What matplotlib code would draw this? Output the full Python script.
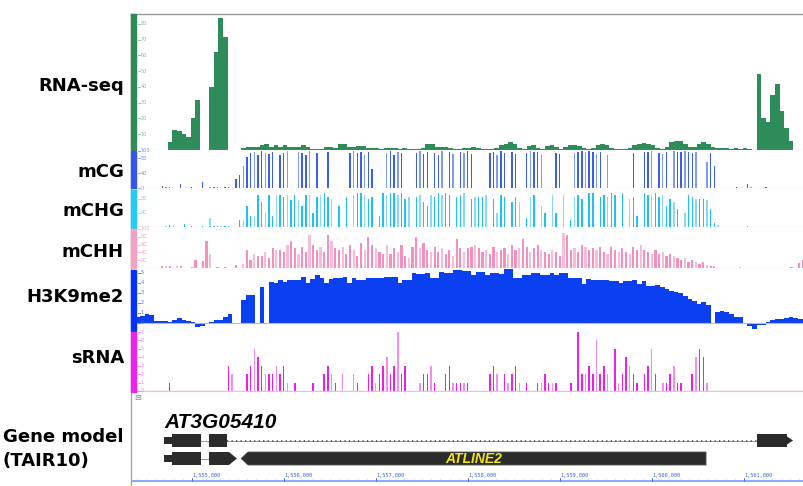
import matplotlib
matplotlib.use("Agg")
import matplotlib.pyplot as plt
import matplotlib.transforms as mtrans
from matplotlib.lines import Line2D
from matplotlib.patches import Polygon, Rectangle
import numpy as np

# ---------------- data ----------------
START, END = 1554337, 1561652

RNA_BIN = 50
rna_seq = [0, 0, 0, 0, 0, 0, 0, 0,
           5, 13, 12, 10, 8, 20, 32,
           0, 0,
           40, 62, 84, 72,
           0, 0, 0,
           1, 2, 2, 2, 3, 4, 2, 3, 2, 3, 2, 2, 2, 3, 2,
           0.5, 0.5, 0.5,
           2, 2, 1, 4, 4, 2, 2, 2.5, 2.5, 1, 1.5, 1, 0.5, 1, 1.5, 1, 0.5, 1.5, 0.5, 0.5, 0.5, 1,
           4, 3.5, 2, 2, 2, 1, 0.5, 0.5, 1, 1.5, 2, 1.5, 0.5, 0.5, 0.5, 1,
           3, 4, 5, 4, 1, 0.5, 2.5, 3, 1, 0.5, 2.5, 3, 2, 0.5, 2, 3, 3, 2.5, 1, 0.5,
           1, 3, 4, 3, 1, 0.5, 0.5, 0.5, 1, 3, 4, 4.5, 4, 3, 1, 0.5, 2, 5, 6, 6,
           4, 2, 2, 4, 5, 4, 2, 1, 1, 1, 0.5, 1, 0.5, 1, 0.5, 0,
           48, 20, 18, 35, 42, 25, 14, 6, 0, 0, 0]

METH_BIN = 40
mCG = [0, 0, 0, 0, 0, 0, 0, 0, 5, 4,
       3, 0, 0, 10, 0, 0, 4, 0, 0, 15,
       0, 3, 2, 3, 0, 3, 2, 0, 25, 35,
       60, 85, 95, 98, 90, 100, 95, 92, 97, 0,
       90, 95, 100, 0, 0, 98, 95, 90, 100, 0,
       95, 0, 0, 98, 0, 0, 0, 0, 0, 95,
       100, 95, 98, 90, 96, 50, 0, 0, 0, 95,
       100, 90, 98, 95, 0, 0, 0, 95, 100, 92,
       98, 0, 95, 90, 100, 0, 96, 92, 0, 98,
       95, 100, 92, 0, 0, 0, 0, 95, 98, 90,
       100, 95, 0, 98, 92, 0, 0, 95, 100, 96,
       98, 90, 0, 0, 0, 95, 92, 0, 0, 0,
       95, 98, 100, 96, 100, 98, 92, 97, 0, 90,
       0, 0, 0, 0, 0, 0, 95, 0, 0, 96,
       98, 100, 0, 95, 92, 97, 0, 100, 98, 96,
       100, 98, 95, 97, 0, 0, 70, 95, 60, 0,
       0, 0, 0, 0, 2, 0, 0, 12, 3, 0,
       0, 0, 2, 0, 0, 0, 0, 0, 0, 0,
       0, 0, 0]

mCHG = [0, 0, 0, 0, 0, 0, 0, 0, 0, 4,
        5, 4, 0, 0, 8, 0, 3, 0, 0, 2,
        0, 25, 3, 2, 3, 2, 3, 0, 0, 20,
        20, 60, 30, 30, 90, 70, 40, 90, 30, 90,
        90, 85, 90, 75, 90, 75, 60, 90, 90, 40,
        85, 90, 95, 85, 80, 0, 60, 0, 85, 0,
        90, 95, 95, 90, 80, 85, 0, 30, 95, 90,
        95, 95, 90, 95, 80, 85, 0, 85, 90, 70,
        60, 90, 85, 95, 90, 95, 90, 0, 85, 90,
        95, 0, 80, 85, 85, 85, 90, 0, 80, 40,
        90, 85, 0, 70, 85, 70, 0, 25, 85, 90,
        0, 60, 40, 0, 90, 40, 0, 90, 0, 20,
        85, 90, 80, 0, 95, 95, 0, 85, 90, 85,
        95, 90, 0, 95, 0, 80, 85, 30, 0, 95,
        90, 90, 95, 85, 90, 60, 80, 70, 50, 0,
        40, 90, 85, 80, 80, 80, 75, 50, 10, 5,
        0, 0, 0, 0, 0, 0, 0, 2, 0, 0,
        0, 0, 0, 0, 0, 0, 0, 0, 0, 0,
        0, 0, 0]

mCHH = [0, 0, 0, 0, 0, 0, 0, 0, 5, 4,
        5, 0, 5, 4, 0, 0, 3, 20, 0, 18,
        70, 35, 0, 2, 0, 3, 0, 0, 8, 0,
        10, 45, 20, 35, 30, 30, 40, 25, 50, 45,
        45, 40, 60, 70, 50, 35, 55, 40, 85, 60,
        45, 55, 40, 85, 70, 50, 45, 55, 35, 60,
        45, 30, 65, 45, 80, 60, 50, 40, 35, 60,
        35, 50, 40, 60, 30, 25, 55, 80, 50, 65,
        45, 40, 55, 40, 50, 35, 45, 30, 75, 50,
        40, 50, 55, 60, 50, 40, 45, 35, 55, 40,
        45, 50, 35, 60, 45, 50, 75, 55, 40, 50,
        60, 45, 40, 35, 45, 40, 30, 90, 85, 45,
        50, 40, 60, 55, 45, 50, 45, 55, 40, 35,
        55, 45, 40, 50, 40, 35, 55, 45, 60, 45,
        40, 35, 45, 35, 40, 30, 35, 30, 25, 20,
        25, 15, 20, 15, 10, 15, 8, 5, 4, 0,
        0, 0, 0, 0, 0, 2, 0, 0, 0, 0,
        0, 0, 0, 0, 0, 0, 0, 0, 0, 3,
        0, 12, 20]

H3_BIN = 50
h3k9me2 = [0.6, 0.6, 0.7, 0.85, 0.8,
           0.2, 0.2, 0.2, 0.1, 0.3, 0.5, 0.3, 0.2, 0.1,
           -0.4, -0.3, -0.1,
           0.1, 0.3, 0.3, 0.6, 0.85,
           0, 0, 2.3, 2.8, 2.8, 0, 3.6, 0,
           4.1, 4.0, 4.25, 4.1, 4.3, 4.3, 4.3, 4.6, 4.0, 4.4,
           4.8, 4.5, 4.0, 4.4, 4.5, 4.5, 4.6, 4.0, 4.5, 4.3,
           4.3, 4.5, 4.5, 4.5, 4.5, 4.6, 4.6, 4.6, 4.0, 4.3,
           4.3, 5.0, 4.9, 4.9, 5.0, 4.5, 4.5, 5.1, 5.0, 5.0,
           5.3, 5.3, 5.2, 5.2, 4.8, 5.1, 5.1, 4.8, 5.0, 5.0,
           4.9, 5.4, 5.4, 4.5, 4.5, 4.8, 4.8, 5.0, 5.0, 4.8,
           4.8, 5.0, 4.8, 5.0, 5.0, 4.5, 4.5, 4.5, 3.9, 4.4,
           4.3, 4.3, 4.3, 4.3, 4.2, 4.2, 4.0, 4.2, 4.2, 4.3,
           3.9, 4.2, 3.7, 3.7, 3.8, 3.6, 3.4, 3.2, 3.1, 3.0,
           2.7, 2.4, 2.2, 1.9, 2.1, 1.8, 0, 1.1, 1.2, 1.1,
           0.9, 0.6, 0.6, 0, -0.3, -0.6, -0.2, -0.2, 0.1, 0.3,
           0.35, 0.35, 0.5, 0.6, 0.5, 0.4, 0.2]

SRNA_BIN = 40
srna = [0, 0, 0, 0, 0, 0, 0, 0, 0, 0,
        1, 0, 0, 0, 0, 0, 0, 0, 0, 0,
        0, 0, 0, 0, 0, 0, 3, 2, 0, 0,
        0, 2, 3, 5, 4, 3, 2, 2, 2, 3,
        2, 3, 1, 0, 1, 0, 0, 0, 0, 1,
        0, 0, 2, 3, 2, 1, 0, 2, 0, 0,
        2, 1, 0, 0, 2, 3, 1, 2, 3, 4,
        2, 3, 7, 2, 3, 0, 0, 0, 1, 2,
        2, 3, 1, 0, 0, 2, 3, 1, 1, 1,
        1, 1, 0, 0, 0, 0, 0, 2, 3, 2,
        0, 2, 1, 2, 3, 1, 0, 1, 0, 0,
        1, 1, 2, 1, 1, 1, 0, 0, 0, 1,
        0, 7, 2, 2, 3, 2, 6, 2, 3, 2,
        0, 5, 1, 2, 4, 3, 2, 1, 0, 2,
        3, 5, 2, 0, 1, 1, 2, 3, 1, 1,
        0, 0, 2, 4, 5, 4, 1, 0, 0, 0,
        0, 0, 0, 0, 0, 0, 0, 0, 0, 0,
        0, 0, 0, 0, 0, 0, 0, 0, 0, 0,
        0, 0, 0]

track_names = ["RNA-seq", "mCG", "mCHG", "mCHH", "H3K9me2", "sRNA"]
rna_ticks = [10, 20, 30, 40, 50, 60, 70, 80]
mcg_ticks = [0, 40, 80, 100]
mchg_ticks = [40, 80]
mchh_ticks = [20, 40, 60, 80, 100]
h3_ticks = [0, 1, 2, 3, 4, 5]
srna_ticks = [0, 1, 2, 3, 4, 5, 6, 7]

ruler_ticks = [1555000, 1556000, 1557000, 1558000, 1559000, 1560000, 1561000]

gene_name = "AT3G05410"
tx_utr = (1554696, 1554783)
tx1_exons = [(1554783, 1555098), (1555185, 1555381), (1561141, 1561467)]
tx1_tip = 1561533
tx2_exons = [(1554783, 1555098), (1555185, 1555402)]
tx2_tip = 1555489
te_name = "ATLINE2"
te_span = (1555533, 1560587)

# ---------------- figure ----------------
W, H = 804, 486
L = 131
fig = plt.figure(figsize=(W / 100, H / 100), dpi=100)


def rect(y0, y1):
    return [L / W, 1 - y1 / H, (W - L) / W, (y1 - y0) / H]


def track_axes(y0, y1, ylim):
    ax = fig.add_axes(rect(y0, y1))
    ax.set_xlim(START, END)
    ax.set_ylim(*ylim)
    ax.axis("off")
    return ax


def centers(vals, b):
    return START + (np.arange(len(vals)) + 0.5) * b


def shades(n, c1, c2):
    return [c1 if i % 3 else c2 for i in range(n)]


def add_ticks(ax, ticks, color):
    tr = mtrans.blended_transform_factory(fig.transFigure, ax.transData)
    for t in ticks:
        ax.add_line(Line2D([137.5 / W, 140.5 / W], [t, t], transform=tr,
                           color=color, lw=0.6, clip_on=False))
        ax.text(141 / W, t, str(t), transform=tr, fontsize=3.6, color=color,
                va="center", ha="left", clip_on=False)


def sidebar(y0, y1, color):
    fig.patches.append(Rectangle((131.5 / W, 1 - y1 / H), 5 / W, (y1 - y0) / H,
                                 transform=fig.transFigure, color=color, zorder=5))


# RNA-seq
ax = track_axes(14, 150, (0, 86.3))
edges = START + np.arange(len(rna_seq) + 1) * RNA_BIN
ax.stairs(rna_seq, edges, fill=True, color="#2e8b5a", lw=0)
ax.axhline(0, color="#bbbbbb", lw=0.8)
add_ticks(ax, rna_ticks, "#74c792")
sidebar(14, 150, "#2e8b57")

# mCG
ax = track_axes(150, 188, (0, 102.7))
ax.bar(centers(mCG, METH_BIN), mCG, width=METH_BIN * 0.38,
       color=shades(len(mCG), "#3a5fec", "#7f9bf4"), lw=0)
ax.axhline(0, color="#bbbbbb", lw=0.8)
add_ticks(ax, mcg_ticks, "#7d93ef")
sidebar(151, 188, "#3355ee")

# mCHG
ax = track_axes(188, 227, (0, 110))
ax.bar(centers(mCHG, METH_BIN), mCHG, width=METH_BIN * 0.38,
       color=shades(len(mCHG), "#1ec2f2", "#86dcf8"), lw=0)
ax.axhline(0, color="#bbbbbb", lw=0.8)
add_ticks(ax, mchg_ticks, "#6fd8f5")
sidebar(190, 228, "#22ccf5")

# mCHH
ax = track_axes(227, 268, (0, 105))
ax.bar(centers(mCHH, METH_BIN), mCHH, width=METH_BIN * 0.6,
       color=shades(len(mCHH), "#f590bd", "#f9bcd7"), lw=0)
ax.axhline(0, color="#f5b5cf", lw=0.8)
add_ticks(ax, mchh_ticks, "#f6a6c8")
sidebar(229, 268, "#f5a0c5")

# H3K9me2
ax = track_axes(268, 332, (-0.95, 5.45))
ax.bar(centers(h3k9me2, H3_BIN), h3k9me2, width=H3_BIN * 0.97, color="#0b40f0", lw=0)
ax.axhline(0, color="#bbbbbb", lw=0.8)
add_ticks(ax, h3_ticks, "#4c70f5")
sidebar(270, 331, "#0033ff")

# sRNA
ax = track_axes(332, 392, (-0.12, 7.0))
ax.bar(centers(srna, SRNA_BIN), srna, width=SRNA_BIN * 0.4,
       color=shades(len(srna), "#f01de8", "#f78cf0"), lw=0)
ax.axhline(0, color="#f9b3f2", lw=1.0)
add_ticks(ax, srna_ticks, "#f57ae8")
sidebar(332, 392, "#ee22ee")

# Gene model
axg = fig.add_axes(rect(392, 486))
axg.set_xlim(START, END)
axg.set_ylim(486, 392)
axg.axis("off")
dark = "#2b2b2b"
y1c, y2c = 440.5, 458.5
hc, hu = 6.5, 3.5


def intron(a, b, y, dotted):
    axg.plot([a, b], [y, y], color="#888888", lw=0.6, zorder=1)
    if dotted:
        axg.plot([a, b], [y, y], color="#555555", lw=1.3, ls=(0, (0.7, 1.8)), zorder=1)


for yc, exons in ((y1c, tx1_exons), (y2c, tx2_exons)):
    axg.add_patch(Rectangle((tx_utr[0], yc - hu), tx_utr[1] - tx_utr[0], 2 * hu, color=dark, lw=0))
    for i, (a, b) in enumerate(exons):
        if i > 0:
            intron(exons[i - 1][1], a, yc, dotted=(a - exons[i - 1][1]) > 1000)
    for a, b in exons[:-1]:
        axg.add_patch(Rectangle((a, yc - hc), b - a, 2 * hc, color=dark, lw=0))

# last exon of transcript 1 with arrow tip
a, b = tx1_exons[-1]
axg.add_patch(Polygon([(a, y1c - hc), (b, y1c - hc), (b, y1c - 4), (tx1_tip, y1c),
                       (b, y1c + 4), (b, y1c + hc), (a, y1c + hc)], closed=True, color=dark, lw=0))
# last exon of transcript 2 with arrow tip
a, b = tx2_exons[-1]
axg.add_patch(Polygon([(a, y2c - hc), (b, y2c - hc), (tx2_tip, y2c), (b, y2c + hc), (a, y2c + hc)],
                      closed=True, color=dark, lw=0))
# transposon
ta, tb = te_span
axg.add_patch(Polygon([(ta, y2c), (ta + 76, y2c - hc), (tb, y2c - hc), (tb, y2c + hc), (ta + 76, y2c + hc)],
                      closed=True, facecolor=dark, edgecolor="#555555", lw=0.6))
axg.text((ta + tb) / 2, y2c + 0.5, te_name, color="#f2e41c", fontsize=10, fontweight="bold",
         fontstyle="italic", family="Liberation Sans", ha="center", va="center")
axg.text(tx_utr[0], 428, gene_name, color="black", fontsize=15, fontweight="bold",
         fontstyle="italic", family="Liberation Sans", ha="left", va="baseline")

# ruler
axg.axhline(480.5, color="#7799ff", lw=1.2)
for t in range(START // 100 * 100 + 100, END, 100):
    axg.plot([t, t], [479.5, 478.5], color="#a9c0ff", lw=0.4)
for t in ruler_ticks:
    axg.plot([t, t], [481, 477.5], color="#3a66e0", lw=0.6)
    axg.text(t, 476.5, f"{t:,}", color="#3a66e0", fontsize=3.8, family="DejaVu Sans Mono",
             ha="left", va="baseline")

# small collapse icon
fig.text(138 / W, 1 - 397 / H, "\u229f", fontsize=6, color="#888888", ha="center", va="center")

# frame
fig.add_artist(Line2D([L / W, 1], [1 - 14 / H, 1 - 14 / H], color="#999999", lw=1.0))
fig.add_artist(Line2D([131 / W, 131 / W], [0, 1 - 14 / H], color="#aaaaaa", lw=1.0))

# left labels
lab_kw = dict(fontsize=13, fontweight="bold", family="DejaVu Sans", color="black", va="center")
label_y = [86, 172, 211, 252, 297, 358]
for name, y in zip(track_names, label_y):
    fig.text(124 / W, 1 - y / H, name, ha="right", **lab_kw)
fig.text(3 / W, 1 - 437 / H, "Gene model", ha="left", **lab_kw)
fig.text(3 / W, 1 - 461 / H, "(TAIR10)", ha="left", **lab_kw)

fig.savefig("out.png", dpi=100)
